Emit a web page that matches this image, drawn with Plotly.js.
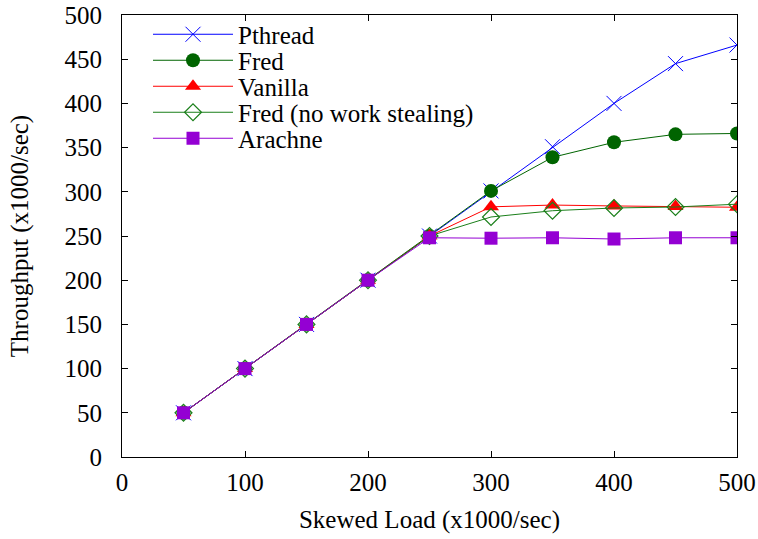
<!DOCTYPE html>
<html><head><meta charset="utf-8">
<script src="https://cdn.plot.ly/plotly-3.0.1.min.js"></script>
<style>body{margin:0;background:#fff}#c{width:758px;height:539px}</style>
</head><body><div id="c"></div>
<script>
const load = [50,100,150,200,250,300,350,400,450,500];
const pthread = [50,100,150,200,250,301,351,400,445,466];
const fred = [50,100,150,200,250,301,339,356,365,366];
const vanilla = [50,100,150,200,250,283,285,284,283.5,282.5];
const fredNoWS = [50,100,150,200,250,271.5,278.6,281.7,282.8,286];
const arachne = [50,100,150,200,248,247.5,248,246.6,248,248];
const names = ["Pthread","Fred","Vanilla","Fred (no work stealing)","Arachne"];

const series = [pthread, fred, vanilla, fredNoWS, arachne];
const styles = [
  {color:'#0000ff', symbol:'x-thin-open', size:15, lw:1},
  {color:'#006400', symbol:'circle', size:14, lw:0},
  {color:'#ff0000', symbol:'triangle-up', size:14, lw:0},
  {color:'#1a7f1a', symbol:'diamond-open', size:13, lw:1.2},
  {color:'#9400d3', symbol:'square', size:13, lw:0}
];
const legendIds = ['legend','legend2','legend3','legend4','legend5'];
const traces = series.map((ys,i)=>({
  x: load, y: ys, name: names[i], type:'scatter', mode:'lines+markers',
  legend: legendIds[i],
  line:{color:styles[i].color, width:1},
  marker:{symbol:styles[i].symbol, size:styles[i].size, color:styles[i].color,
          line:{color:styles[i].color, width: styles[i].lw}}
}));
const FONT = 'Liberation Serif';
const axisCommon = {showline:true, mirror:'ticks', linecolor:'#000', linewidth:1,
  ticks:'inside', ticklen:6, tickcolor:'#000', showgrid:false, zeroline:false, automargin:false,
  tickfont:{family:FONT, size:25, color:'#000'}};
const legendRows = [36,62,88,114,140];
const layout = {
  width:758, height:539,
  margin:{l:122, r:21, t:15, b:82},
  paper_bgcolor:'#fff', plot_bgcolor:'#fff',
  font:{family:FONT, color:'#000', size:25},
  xaxis:Object.assign({}, axisCommon, {range:[0,500], dtick:100, tick0:0, ticklabelstandoff:3,
    title:{text:'Skewed Load (x1000/sec)', font:{family:FONT, size:25}, standoff:15}}),
  yaxis:Object.assign({}, axisCommon, {range:[0,500], dtick:50, tick0:0, ticklabelstandoff:14,
    title:{text:'Throughput (x1000/sec)', font:{family:FONT, size:25}, standoff:28}}),
  showlegend:true
};
legendIds.forEach((id,i)=>{
  layout[id] = {x:(148-122)/615, y:(457-(legendRows[i]-24.5))/442, xanchor:'left', yanchor:'top',
    bgcolor:'rgba(0,0,0,0)', borderwidth:0,
    font:{family:FONT, size:25, color:'#000'}, itemwidth:80};
});
Plotly.newPlot('c', traces, layout, {displayModeBar:false});
</script></body></html>
